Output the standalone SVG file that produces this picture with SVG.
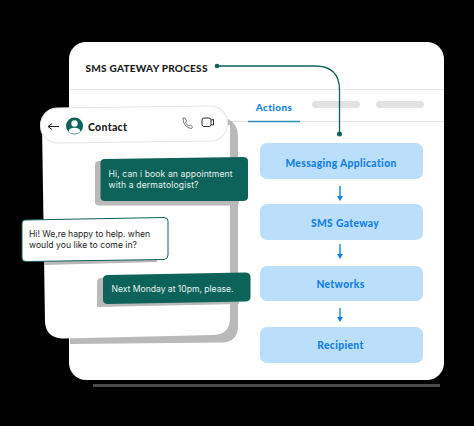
<svg xmlns="http://www.w3.org/2000/svg" width="474" height="426" viewBox="0 0 474 426">
<style>
.step{fill:#bbdefb}
.stept{font:900 10.300px Lato,"Liberation Sans",sans-serif;fill:#1180e4;text-anchor:middle;letter-spacing:.35px}
.chat{font:400 8.600px Inter,"Liberation Sans",sans-serif}
.shadow{fill:#b9b9b9}
.teal{fill:#0d6259}
.pill{fill:#e2e2e2}
.rule{stroke:#e6e6e6;stroke-width:1;fill:none}
.arrow{stroke:#1180e4;stroke-width:1.400;fill:none;marker-end:url(#ah)}
</style>
<defs><marker id="ah" viewBox="0 0 6 5" refX="3" refY="3" markerWidth="6" markerHeight="5" markerUnits="userSpaceOnUse" orient="0"><path d="M0 0L6 0L3 5Z" fill="#1180e4"/></marker></defs>
<rect width="474" height="426" fill="#000"/>
<g id="main-card">
<path d="M93 385.500H440" stroke="#4a4a4a" stroke-width="3" fill="none"/>
<rect x="69" y="42" width="375" height="338" rx="17" fill="#fff"/>
<path class="rule" d="M69 89.500H444"/>
<path class="rule" d="M230 121.500H444"/>
<text x="85.500" y="71.500" font-family="Lato,'Liberation Sans',sans-serif" font-weight="900" font-size="10" fill="#1c1c1c" letter-spacing=".1" textLength="122">SMS GATEWAY PROCESS</text>
</g>
<g id="tabs">
<text x="274" y="111" class="stept" style="font-size:10px">Actions</text>
<path d="M248 121.500H300" stroke="#2f8fb8" stroke-width="1.500" fill="none"/>
<rect class="pill" x="312" y="101" width="48" height="7" rx="3.500"/>
<rect class="pill" x="376" y="101" width="48" height="7" rx="3.500"/>
</g>
<g id="connectors">
<path d="M217 66H315Q339.500 66 339.500 90V134" stroke="#0d6259" stroke-width="1.300" fill="none"/>
<circle cx="217" cy="66" r="2.300" class="teal"/>
<circle cx="339.500" cy="134" r="2.500" class="teal"/>
<path class="arrow" d="M340 186V199"/>
<path class="arrow" d="M340 244V257"/>
<path class="arrow" d="M340 308V320"/>
</g>
<g id="step-messaging"><rect class="step" x="260" y="143" width="163" height="36" rx="7"/><text class="stept" x="341" y="166.500">Messaging Application</text></g>
<g id="step-gateway"><rect class="step" x="260" y="204" width="163" height="36" rx="7"/><text class="stept" x="345" y="226.500">SMS Gateway</text></g>
<g id="step-networks"><rect class="step" x="260" y="266" width="163" height="35" rx="7"/><text class="stept" x="340.500" y="288">Networks</text></g>
<g id="step-recipient"><rect class="step" x="260" y="327" width="163" height="36" rx="7"/><text class="stept" x="340.500" y="349">Recipient</text></g>
<g id="phone">
<path class="shadow" d="M70 344L222 342.500Q238 342 238 326V136Q238 124 228 119L226 330L70 336Z"/>
<path d="M42 125H230V318Q230 334 214 335L63 338.500Q46 338 45 322Z" fill="#fff"/>
</g>
<g id="contact-bar">
<rect x="40.500" y="107" width="187" height="35" rx="17" fill="#fff" stroke="#e4e4e4" stroke-width="1" transform="rotate(-.7 134 125)"/>
<path d="M48 126.500H59M48 126.500L52 123.500M48 126.500L52 129.500" stroke="#222" stroke-width="1" fill="none"/>
<circle cx="74.500" cy="126" r="8.500" class="teal"/>
<circle cx="74.500" cy="123.500" r="3.200" fill="#fff"/>
<path d="M68.500 132Q69 127.800 74.500 127.800Q80 127.800 80.500 132Q74.500 135.500 68.500 132Z" fill="#fff"/>
<text x="88" y="130.500" font-family="Lato,'Liberation Sans',sans-serif" font-weight="900" font-size="10.500" fill="#1c1c1c" letter-spacing=".3">Contact</text>
<path d="M183 118L185 118L186.500 121L185.500 122.500Q186.500 125 189 126L190.500 125L192.500 127L191.500 128.500Q186 128 183.500 122Z" fill="none" stroke="#555" stroke-width=".8"/>
<rect x="202" y="118" width="9" height="8.500" rx="2" fill="none" stroke="#333" stroke-width="1"/>
<path d="M211 120L213.500 119.500V125L211 124.500" fill="none" stroke="#333" stroke-width="1"/>
</g>
<g id="bubble-request">
<rect class="shadow" x="95" y="161" width="144" height="44.500" rx="4"/>
<path class="teal" d="M105 159L243 157Q248 157 248 161V197Q248 201 243 201L105 201Q100.500 201 100.500 197V163Q100.500 159 105 159Z"/>
<g class="chat" fill="#e8f3f1"><text x="108.500" y="177" textLength="124">Hi, can i book an appointment</text><text x="108.500" y="187.500" textLength="90">with a dermatologist?</text></g>
</g>
<g id="bubble-reply">
<path class="shadow" d="M44 250H157V262L44 265Z"/>
<path d="M25 220L164 217.500Q168 217.500 168 221V255Q168 259 164 259.500L26 261.500Q22 261.500 22 258V223Q22 220 25 220Z" fill="#fff" stroke="#0d6259" stroke-width="1"/>
<g class="chat" fill="#222"><text x="29" y="237" textLength="121">Hi! We,re happy to help. when</text><text x="29" y="247.500" textLength="108">would you like to come in?</text></g>
</g>
<g id="bubble-time">
<path class="shadow" d="M101 278H239V304L97 307V282Q97 278 101 278Z"/>
<path class="teal" d="M108 275L245 272.500Q250.500 272.500 250.500 277V297Q250.500 301 246 301.500L108 304Q103 304 103 300V279Q103 275 108 275Z"/>
<text class="chat" fill="#e8f3f1" x="111.500" y="292" textLength="122">Next Monday at 10pm, please.</text>
</g>
</svg>
